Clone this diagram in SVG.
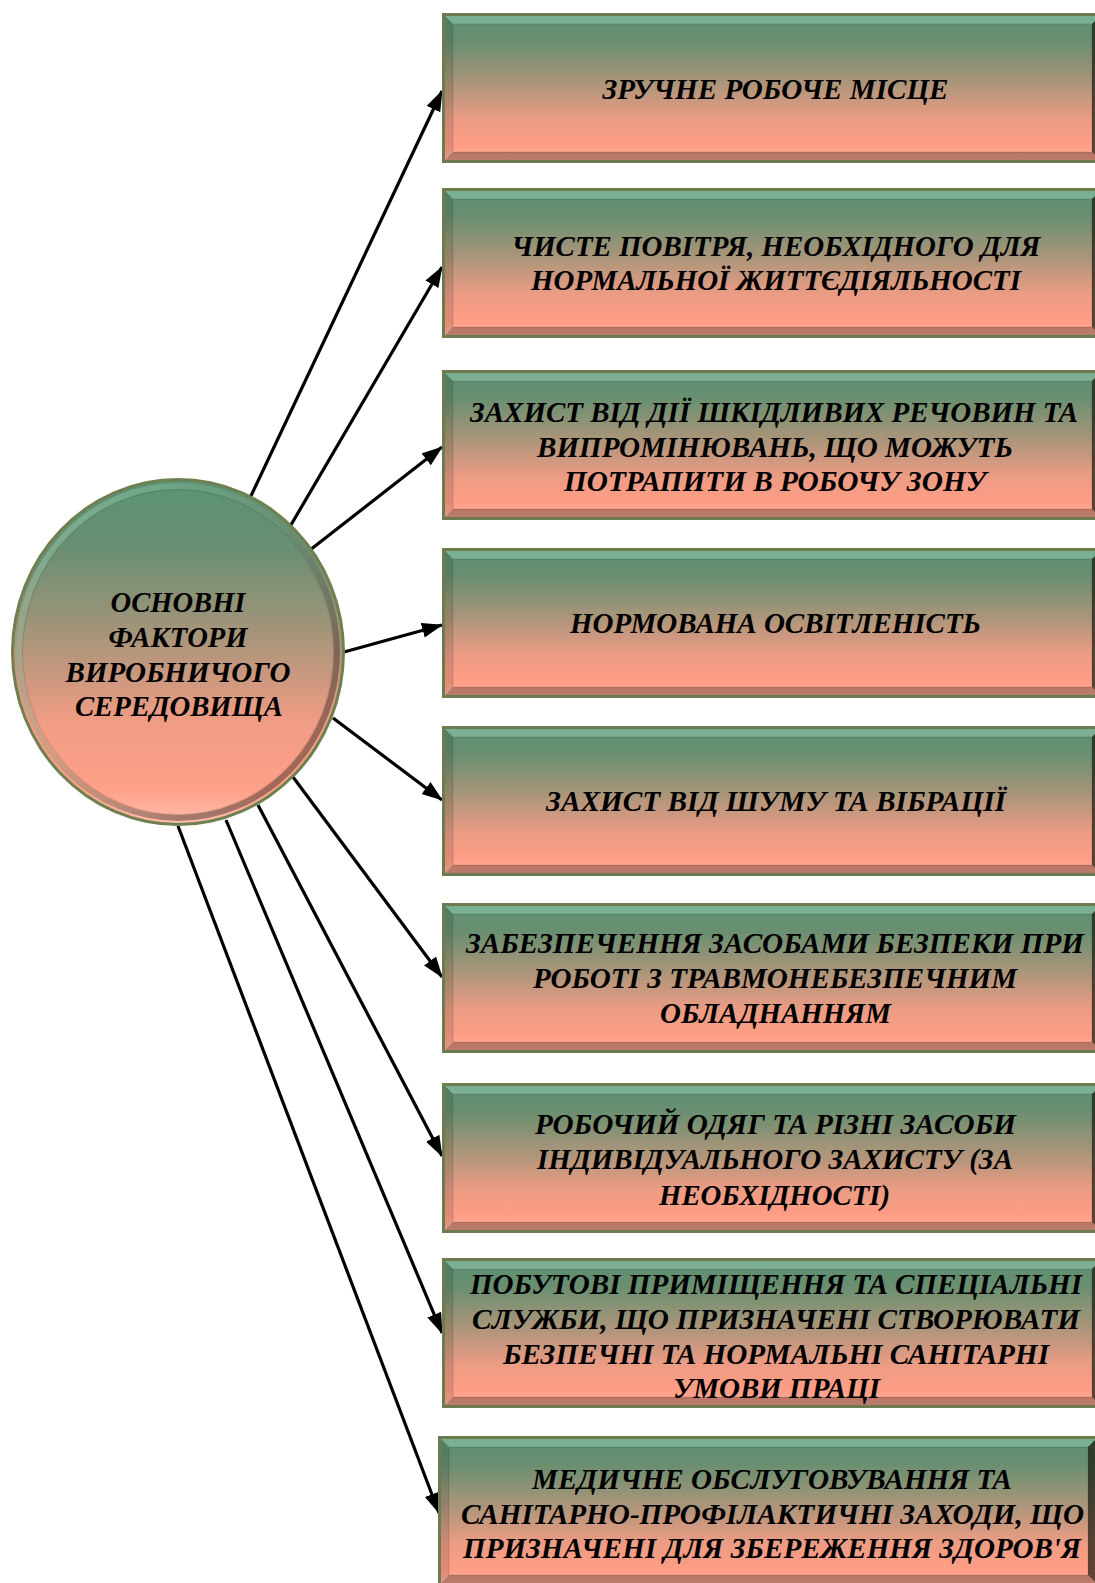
<svg xmlns="http://www.w3.org/2000/svg" xmlns:xlink="http://www.w3.org/1999/xlink" width="1095" height="1583" viewBox="0 0 1095 1583">
<style>
.t{font-family:"Liberation Serif","Times New Roman",serif;font-weight:bold;font-style:italic;font-size:30px;fill:#000;text-anchor:middle}
.ln{stroke:#000;stroke-width:3.2;fill:none}
</style>
<defs>
<linearGradient id="fillG" x1="0" y1="0" x2="0" y2="1">
<stop offset="0" stop-color="#5a8f71"/>
<stop offset="0.18" stop-color="#6a8f70"/>
<stop offset="0.45" stop-color="#a8957a"/>
<stop offset="0.72" stop-color="#ec9c84"/>
<stop offset="0.9" stop-color="#ff9d85"/>
<stop offset="1" stop-color="#ffb29d"/>
</linearGradient>
<linearGradient id="circG" x1="0" y1="0" x2="0" y2="1">
<stop offset="0" stop-color="#5a9375"/>
<stop offset="0.2" stop-color="#6a8e71"/>
<stop offset="0.45" stop-color="#a6957a"/>
<stop offset="0.7" stop-color="#f09c84"/>
<stop offset="0.9" stop-color="#ffa088"/>
<stop offset="1" stop-color="#ffbcaa"/>
</linearGradient>
<linearGradient id="ringG" x1="0" y1="0" x2="1" y2="1">
<stop offset="0" stop-color="#9fe0bf" stop-opacity="0.55"/>
<stop offset="0.45" stop-color="#7a9a80" stop-opacity="0.3"/>
<stop offset="0.75" stop-color="#3a2a25" stop-opacity="0.45"/>
<stop offset="1" stop-color="#3a2a25" stop-opacity="0.5"/>
</linearGradient>
<marker id="ah" markerUnits="userSpaceOnUse" markerWidth="22" markerHeight="16" refX="20" refY="7.5" orient="auto">
<path d="M0,0 L21,7.5 L0,15 Z" fill="#000"/>
</marker>
<g id="boxShape">
<rect x="0" y="0" width="661" height="150" fill="#6e7b4f"/>
<rect x="3" y="3" width="655" height="144" fill="url(#fillG)"/>
<polygon points="3,3 658,3 650,11 11,11" fill="#bfffe0" fill-opacity="0.3"/>
<polygon points="3,3 11,11 11,139 3,147" fill="#000" fill-opacity="0.12"/>
<polygon points="658,3 658,147 650,139 650,11" fill="#1a1a10" fill-opacity="0.7"/>
<polygon points="3,147 11,139 650,139 658,147" fill="#3a1a10" fill-opacity="0.35"/>
<rect x="11" y="11" width="639" height="128" fill="none" stroke="#000" stroke-opacity="0.12" stroke-width="1"/>
</g>
</defs>
<rect width="1095" height="1583" fill="#fff"/>

<g id="connectors">
<line class="ln" x1="250" y1="498" x2="442" y2="91" marker-end="url(#ah)"/>
<line class="ln" x1="288" y1="530" x2="442" y2="267" marker-end="url(#ah)"/>
<line class="ln" x1="310" y1="550" x2="442" y2="447" marker-end="url(#ah)"/>
<line class="ln" x1="344" y1="652" x2="442" y2="625" marker-end="url(#ah)"/>
<line class="ln" x1="333" y1="718" x2="442" y2="800" marker-end="url(#ah)"/>
<line class="ln" x1="293" y1="777" x2="442" y2="977" marker-end="url(#ah)"/>
<line class="ln" x1="258" y1="805" x2="442" y2="1156" marker-end="url(#ah)"/>
<line class="ln" x1="226" y1="820" x2="442" y2="1333" marker-end="url(#ah)"/>
<line class="ln" x1="178" y1="826" x2="439" y2="1513" marker-end="url(#ah)"/>
</g>

<g id="center">
<ellipse cx="178" cy="652" rx="167" ry="174" fill="#6e8050"/>
<ellipse cx="178" cy="652" rx="164" ry="171" fill="url(#circG)"/>
<ellipse cx="178" cy="652" rx="159" ry="166" fill="none" stroke="url(#ringG)" stroke-width="6"/>
<ellipse cx="178" cy="652" rx="155.5" ry="162.5" fill="none" stroke="#000" stroke-opacity="0.12" stroke-width="1"/>
<text class="t" x="178" y="612" textLength="135" lengthAdjust="spacingAndGlyphs">ОСНОВНІ</text>
<text class="t" x="178" y="646.5" textLength="139" lengthAdjust="spacingAndGlyphs">ФАКТОРИ</text>
<text class="t" x="178" y="681.5" textLength="225" lengthAdjust="spacingAndGlyphs">ВИРОБНИЧОГО</text>
<text class="t" x="179" y="716" textLength="208" lengthAdjust="spacingAndGlyphs">СЕРЕДОВИЩА</text>
</g>

<g id="n1">
<use xlink:href="#boxShape" x="442" y="13"/>
<text class="t" x="775.5" y="98.5" textLength="346" lengthAdjust="spacingAndGlyphs">ЗРУЧНЕ РОБОЧЕ МІСЦЕ</text>
</g>
<g id="n2">
<use xlink:href="#boxShape" x="442" y="188"/>
<text class="t" x="776" y="256" textLength="529" lengthAdjust="spacingAndGlyphs">ЧИСТЕ ПОВІТРЯ, НЕОБХІДНОГО ДЛЯ</text>
<text class="t" x="776" y="290" textLength="490" lengthAdjust="spacingAndGlyphs">НОРМАЛЬНОЇ ЖИТТЄДІЯЛЬНОСТІ</text>
</g>
<g id="n3">
<use xlink:href="#boxShape" x="442" y="370"/>
<text class="t" x="774" y="421.5" textLength="608" lengthAdjust="spacingAndGlyphs">ЗАХИСТ ВІД ДІЇ ШКІДЛИВИХ РЕЧОВИН ТА</text>
<text class="t" x="775" y="456.5" textLength="476" lengthAdjust="spacingAndGlyphs">ВИПРОМІНЮВАНЬ, ЩО МОЖУТЬ</text>
<text class="t" x="775" y="491" textLength="422" lengthAdjust="spacingAndGlyphs">ПОТРАПИТИ В РОБОЧУ ЗОНУ</text>
</g>
<g id="n4">
<use xlink:href="#boxShape" x="442" y="548"/>
<text class="t" x="775.5" y="633" textLength="411" lengthAdjust="spacingAndGlyphs">НОРМОВАНА ОСВІТЛЕНІСТЬ</text>
</g>
<g id="n5">
<use xlink:href="#boxShape" x="442" y="726"/>
<text class="t" x="776" y="811" textLength="460" lengthAdjust="spacingAndGlyphs">ЗАХИСТ ВІД ШУМУ ТА ВІБРАЦІЇ</text>
</g>
<g id="n6">
<use xlink:href="#boxShape" x="442" y="903"/>
<text class="t" x="775" y="953" textLength="618" lengthAdjust="spacingAndGlyphs">ЗАБЕЗПЕЧЕННЯ ЗАСОБАМИ БЕЗПЕКИ ПРИ</text>
<text class="t" x="775" y="987.5" textLength="484" lengthAdjust="spacingAndGlyphs">РОБОТІ З ТРАВМОНЕБЕЗПЕЧНИМ</text>
<text class="t" x="775.5" y="1022.5" textLength="231" lengthAdjust="spacingAndGlyphs">ОБЛАДНАННЯМ</text>
</g>
<g id="n7">
<use xlink:href="#boxShape" x="442" y="1083"/>
<text class="t" x="775.5" y="1133.5" textLength="481" lengthAdjust="spacingAndGlyphs">РОБОЧИЙ ОДЯГ ТА РІЗНІ ЗАСОБИ</text>
<text class="t" x="775" y="1169" textLength="476" lengthAdjust="spacingAndGlyphs">ІНДИВІДУАЛЬНОГО ЗАХИСТУ (ЗА</text>
<text class="t" x="774.5" y="1204.5" textLength="231" lengthAdjust="spacingAndGlyphs">НЕОБХІДНОСТІ)</text>
</g>
<g id="n8">
<use xlink:href="#boxShape" x="442" y="1258"/>
<text class="t" x="776" y="1294" textLength="612" lengthAdjust="spacingAndGlyphs">ПОБУТОВІ ПРИМІЩЕННЯ ТА СПЕЦІАЛЬНІ</text>
<text class="t" x="776" y="1328.5" textLength="608" lengthAdjust="spacingAndGlyphs">СЛУЖБИ, ЩО ПРИЗНАЧЕНІ СТВОРЮВАТИ</text>
<text class="t" x="776" y="1364" textLength="546" lengthAdjust="spacingAndGlyphs">БЕЗПЕЧНІ ТА НОРМАЛЬНІ САНІТАРНІ</text>
<text class="t" x="776.5" y="1398" textLength="207" lengthAdjust="spacingAndGlyphs">УМОВИ ПРАЦІ</text>
</g>
<g id="n9">
<use xlink:href="#boxShape" x="438" y="1436"/>
<text class="t" x="772" y="1489" textLength="480" lengthAdjust="spacingAndGlyphs">МЕДИЧНЕ ОБСЛУГОВУВАННЯ ТА</text>
<text class="t" x="772.5" y="1523.5" textLength="623" lengthAdjust="spacingAndGlyphs">САНІТАРНО-ПРОФІЛАКТИЧНІ ЗАХОДИ, ЩО</text>
<text class="t" x="772" y="1557.5" textLength="618" lengthAdjust="spacingAndGlyphs">ПРИЗНАЧЕНІ ДЛЯ ЗБЕРЕЖЕННЯ ЗДОРОВ'Я</text>
</g>
</svg>
